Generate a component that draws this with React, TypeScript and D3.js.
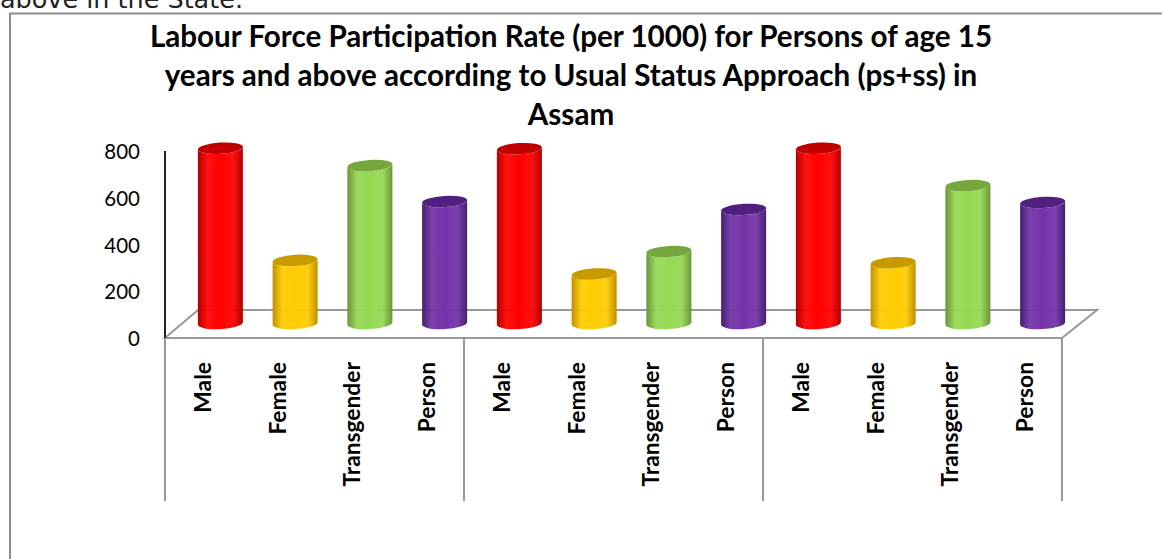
import React from "react";
import * as d3 from "d3";

const titleLines = [
  "Labour Force Participation Rate (per 1000) for Persons of age 15",
  "years and above according to Usual Status Approach (ps+ss) in",
  "Assam",
];
const categories = ["Male", "Female", "Transgender", "Person"];
const groupA = [750, 270, 676, 522];
const groupB = [748, 212, 308, 488];
const groupC = [750, 260, 590, 518];
const yTicks = [0, 200, 400, 600, 800];
const palette = [
  { edge: "#b00000", mid: "#ff0000", top: "#c00000" },
  { edge: "#c08f00", mid: "#ffcc00", top: "#c89a00" },
  { edge: "#6a9438", mid: "#95d852", top: "#76a63e" },
  { edge: "#44206f", mid: "#7332a8", top: "#4f2080" },
];

const FONT = "Lato, 'Open Sans', sans-serif";
const GREY = "#999999";

export default function App() {
  const values = [...groupA, ...groupB, ...groupC];
  const x = d3.scaleBand<number>().domain(d3.range(values.length)).range([165, 1062]).paddingInner(0);
  const y = d3.scaleLinear().domain([0, 800]).range([338, 151]);
  const depthX = 33;
  const depthY = 28;
  const midX = 18;
  const midY = 14.5;
  const rx = 22.5;
  const ry = 5.6;
  const tilt = 3.5;
  const dy = rx * Math.sin((tilt * Math.PI) / 180);
  const bottomFloor = y(0);
  return (
    <svg width={1162} height={559} style={{ position: "absolute", left: 0, top: 0, display: "block", background: "#fff" }}>
      <defs>
        {palette.map((p, i) => (
          <linearGradient key={i} id={`cyl${i}`} x1="0" x2="1" y1="0" y2="0">
            <stop offset="0" stopColor={p.edge} />
            <stop offset="0.22" stopColor={p.mid} stopOpacity={0.93} />
            <stop offset="0.5" stopColor={p.mid} />
            <stop offset="0.78" stopColor={p.mid} stopOpacity={0.93} />
            <stop offset="1" stopColor={p.edge} />
          </linearGradient>
        ))}
      </defs>
      <text x={0} y={8} fontFamily="'DejaVu Sans', sans-serif" fontSize={24} textLength={243} lengthAdjust="spacingAndGlyphs" fill="#222">above in the State.</text>
      <path d="M1162,13.5H10V559" fill="none" stroke="#8c8c8c" strokeWidth={2} />
      {titleLines.map((t, i) => (
        <text key={i} x={571} y={47 + i * 39} textAnchor="middle" fontFamily={FONT} fontWeight={700} fontSize={29.6} fill="#000">{t}</text>
      ))}
      {yTicks.map((t) => (
        <text key={t} x={140} y={y(t) + 8} textAnchor="end" fontFamily={FONT} fontSize={20.5} fill="#000">{t}</text>
      ))}
      <path
        d={`M${x.range()[0]},${bottomFloor}L${x.range()[0] + depthX},${bottomFloor - depthY}H${x.range()[1] + 35}L${x.range()[1]},${bottomFloor}Z`}
        fill="#fff"
        stroke={GREY}
        strokeWidth={2}
      />
      <line x1={165} x2={165} y1={y(800)} y2={bottomFloor} stroke="#222" strokeWidth={2} />
      {d3.range(0, values.length + 1, 4).map((i) => {
        const px = i === values.length ? x.range()[1] : (x(i) as number);
        return <line key={i} x1={px} x2={px} y1={bottomFloor} y2={501} stroke={GREY} strokeWidth={2} />;
      })}
      {values.map((v, i) => {
        const cat = i % 4;
        const cx = (x(i) as number) + x.bandwidth() / 2 + midX;
        const base = y(0) - midY;
        const top = y(v) - midY;
        const L = cx - rx;
        const R = cx + rx;
        const body = `M${L},${top + dy}L${L},${base + dy}A${rx},${ry} ${-tilt} 0 0 ${R},${base - dy}L${R},${top - dy}A${rx},${ry} ${-tilt} 0 1 ${L},${top + dy}Z`;
        const cap = `M${L},${top + dy}A${rx},${ry} ${-tilt} 1 1 ${R},${top - dy}A${rx},${ry} ${-tilt} 1 1 ${L},${top + dy}Z`;
        return (
          <g key={i}>
            <path d={body} fill={`url(#cyl${cat})`} />
            <path d={cap} fill={palette[cat].top} />
          </g>
        );
      })}
      {values.map((_, i) => {
        const lx = (x(i) as number) + x.bandwidth() / 2 + 8.5;
        return (
          <text key={i} transform={`translate(${lx},362) rotate(-90)`} textAnchor="end" fontFamily={FONT} fontWeight={700} fontSize={22.8} fill="#000">
            {categories[i % 4]}
          </text>
        );
      })}
    </svg>
  );
}
